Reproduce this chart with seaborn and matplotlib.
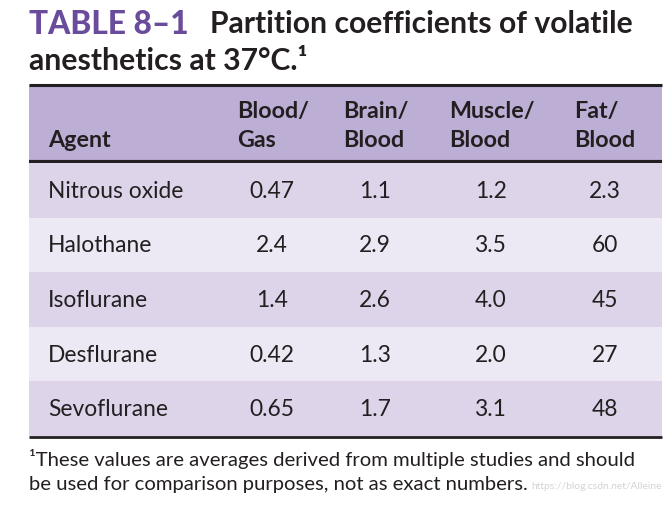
import matplotlib
matplotlib.use("Agg")
import matplotlib.pyplot as plt
from matplotlib.colors import ListedColormap
import seaborn as sns
import numpy as np

# ---- data ----
agents = ["Nitrous oxide", "Halothane", "Isoflurane", "Desflurane", "Sevoflurane"]
blood_gas = ["0.47", "2.4", "1.4", "0.42", "0.65"]
brain_blood = ["1.1", "2.9", "2.6", "1.3", "1.7"]
muscle_blood = ["1.2", "3.5", "4.0", "2.0", "3.1"]
fat_blood = ["2.3", "60", "45", "27", "48"]
headers = ["Agent", "Blood/\nGas", "Brain/\nBlood", "Muscle/\nBlood", "Fat/\nBlood"]
title_tag = "TABLE 8\u20131"
title_l1 = "Partition coefficients of volatile"
title_l2 = "anesthetics at 37\u00b0C.\u00b9"
foot_l1 = "\u00b9These values are averages derived from multiple studies and should"
foot_l2 = "be used for comparison purposes, not as exact numbers."
watermark = "https://blog.csdn.net/Alleine"

sns.set_theme(style="white")
plt.rcParams["font.family"] = ["Lato", "DejaVu Sans"]

W, H = 671, 506
fig = plt.figure(figsize=(W / 100, H / 100), dpi=100)
fig.patch.set_facecolor("white")

TXT = "#231f20"
PURPLE = "#6a4c9c"
HEAD = "#bcaed5"
DARK = "#ddd4ea"
LIGHT = "#ece8f4"

bg = fig.add_axes([0, 0, 1, 1])
bg.set_xlim(0, W)
bg.set_ylim(H, 0)
bg.axis("off")

renderer = fig.canvas.get_renderer()


def fit(t, target_w):
    w = t.get_window_extent(renderer).width
    t.set_fontsize(t.get_fontsize() * target_w / w)
    return t.get_fontsize()


# title
t1 = bg.text(210, 24, title_l1, fontsize=20, fontweight="bold", color=TXT, va="center", ha="left")
s_title = fit(t1, 423)
bg.text(29, 24, title_tag, fontsize=s_title * 1.05, fontweight="black", color=PURPLE, va="center", ha="left")
bg.text(29, 61, title_l2, fontsize=s_title, fontweight="bold", color=TXT, va="center", ha="left")

# header band
x0, x1 = 29, 662
bg.add_patch(plt.Rectangle((x0, 86), x1 - x0, 77, color=HEAD, lw=0))
bg.plot([x0, x1], [85.5, 85.5], color=TXT, lw=2.2, solid_capstyle="butt")
bg.plot([x0, x1], [163, 163], color=TXT, lw=3.0, solid_capstyle="butt")

col_centers = [None, 272, 375, 491, 605]
head_left = [48, 237, 343, 449, 574]
th = bg.text(449, 111, "Muscle/", fontsize=15, fontweight="bold", color=TXT, va="center", ha="left")
s_head = fit(th, 86)
th.remove()
for j, h in enumerate(headers):
    lines = h.split("\n")
    if len(lines) == 1:
        bg.text(head_left[j], 140, lines[0], fontsize=s_head, fontweight="bold", color=TXT, va="center", ha="left")
    else:
        bg.text(head_left[j], 111, lines[0], fontsize=s_head, fontweight="bold", color=TXT, va="center", ha="left")
        bg.text(head_left[j], 140, lines[1], fontsize=s_head, fontweight="bold", color=TXT, va="center", ha="left")

# body rows via seaborn heatmap
ax = fig.add_axes([x0 / W, 1 - 437 / H, (x1 - x0) / W, (437 - 164) / H])
shade = np.array([[i % 2] for i in range(len(agents))])
sns.heatmap(shade, cmap=ListedColormap([DARK, LIGHT]), cbar=False, ax=ax,
            xticklabels=False, yticklabels=False, linewidths=0)
ax.set_xlim(0, 1)
bg.plot([x0, x1], [437.5, 437.5], color=TXT, lw=2.0, solid_capstyle="butt")

tb = ax.text(0, 0, agents[0], fontsize=15, color=TXT)
s_body = fit(tb, 135)
tb.remove()


def fx(px):
    return (px - x0) / (x1 - x0)


cols = [blood_gas, brain_blood, muscle_blood, fat_blood]
for i, a in enumerate(agents):
    ax.text(fx(48), i + 0.5, a, fontsize=s_body, color=TXT, va="center", ha="left")
    for j, c in enumerate(cols):
        ax.text(fx(col_centers[j + 1]), i + 0.5, c[i], fontsize=s_body, color=TXT, va="center", ha="center")

# footnote
tf = bg.text(29, 459, foot_l1, fontsize=14, color=TXT, va="center", ha="left")
s_foot = fit(tf, 608)
tf2 = bg.text(29, 485, foot_l2, fontsize=s_foot, color=TXT, va="center", ha="left")
end2 = tf2.get_window_extent(renderer).x1
tw = bg.text(end2 + 4, 487, watermark, fontsize=11, color="#c8c8c8", va="center", ha="left", alpha=0.8)
fit(tw, 662 - end2 - 4)

fig.savefig("out.png", dpi=100, facecolor="white")
